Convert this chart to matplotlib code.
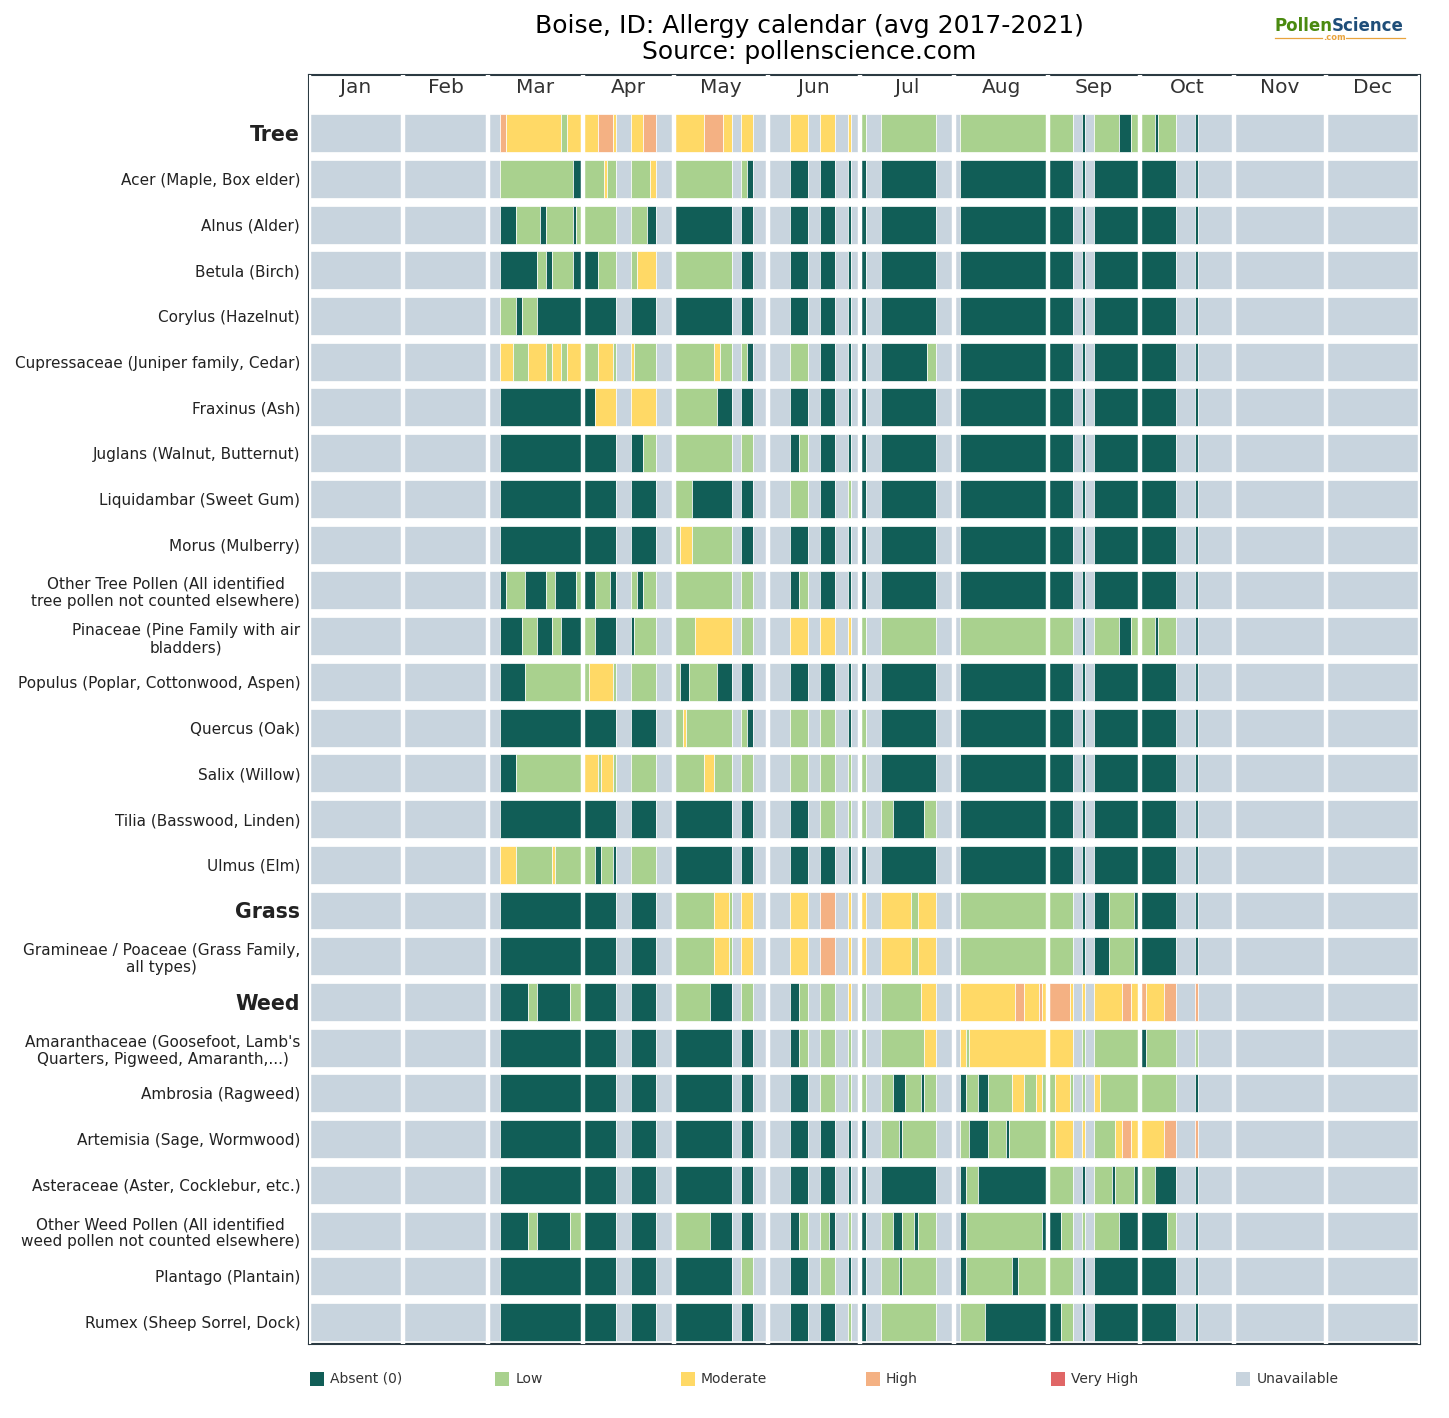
"""Allergy calendar for Boise, ID (avg 2017-2021), one bar row per pollen type, day resolution."""
import matplotlib
matplotlib.use("Agg")
import matplotlib.pyplot as plt
from matplotlib.lines import Line2D
from matplotlib.patches import Rectangle

W, H = 1449, 1418

MONTHS = ["Jan", "Feb", "Mar", "Apr", "May", "Jun", "Jul", "Aug", "Sep", "Oct", "Nov", "Dec"]
MONTH_DAYS = [31, 28, 31, 30, 31, 30, 31, 31, 30, 31, 30, 31]

LEVEL_NAMES = ["Absent (0)", "Low", "Moderate", "High", "Very High", "Unavailable"]
LEVEL_CODES = ["A", "L", "M", "H", "V", "U"]
LEVEL_COLORS = ["#115e57", "#a9d18e", "#ffd966", "#f4b183", "#e06666", "#c8d4de"]

ROW_LABELS = [
    "Tree", "Acer (Maple, Box elder)", "Alnus (Alder)", "Betula (Birch)",
    "Corylus (Hazelnut)", "Cupressaceae (Juniper family, Cedar)", "Fraxinus (Ash)",
    "Juglans (Walnut, Butternut)", "Liquidambar (Sweet Gum)", "Morus (Mulberry)",
    "Other Tree Pollen (All identified\ntree pollen not counted elsewhere)",
    "Pinaceae (Pine Family with air\nbladders)", "Populus (Poplar, Cottonwood, Aspen)",
    "Quercus (Oak)", "Salix (Willow)", "Tilia (Basswood, Linden)", "Ulmus (Elm)",
    "Grass", "Gramineae / Poaceae (Grass Family,\nall types)",
    "Weed", "Amaranthaceae (Goosefoot, Lamb's\nQuarters, Pigweed, Amaranth,...)",
    "Ambrosia (Ragweed)", "Artemisia (Sage, Wormwood)", "Asteraceae (Aster, Cocklebur, etc.)",
    "Other Weed Pollen (All identified\nweed pollen not counted elsewhere)",
    "Plantago (Plantain)", "Rumex (Sheep Sorrel, Dock)",
]
GROUP_ROWS = ["Tree", "Grass", "Weed"]

# daily level per row, run-length coded, one "|" group per month (Jan..Dec)
ROW_DAYS = [
    # Tree
    "U31|U28|U4 H2 M18 L2 M5|M5 H5 M1 U5 M4 H4 U6|M10 H6 M3 U3 M4 U5|U7 M6 U4 M5 U4 M1 U3|L2 U5 L18 U6|U2 L29|L8 U3 A1 U3 L8 A4 L3|L5 A1 L6 U6 A1 U12|U30|U31",
    # Acer
    "U31|U28|U4 L24 A3|L7 M1 L3 U5 L6 M2 U6|L19 U3 L2 A2 U5|U7 A6 U4 A5 U4 A1 U3|A2 U5 A18 U6|U2 A29|A8 U3 A1 U3 A15|A12 U6 A1 U12|U30|U31",
    # Alnus
    "U31|U28|U4 A5 L8 A2 L9 A1 L2|L11 U5 L5 A3 U6|A19 U3 A4 U5|U7 A6 U4 A5 U4 A1 U3|A2 U5 A18 U6|U2 A29|A8 U3 A1 U3 A15|A12 U6 A1 U12|U30|U31",
    # Betula
    "U31|U28|U4 A12 L3 A2 L7 A3|A5 L6 U5 L2 M6 U6|L19 U3 A4 U5|U7 A6 U4 A5 U4 A1 U3|A2 U5 A18 U6|U2 A29|A8 U3 A1 U3 A15|A12 U6 A1 U12|U30|U31",
    # Corylus
    "U31|U28|U4 L5 A2 L5 A15|A11 U5 A8 U6|A19 U3 A4 U5|U7 A6 U4 A5 U4 A1 U3|A2 U5 A18 U6|U2 A29|A8 U3 A1 U3 A15|A12 U6 A1 U12|U30|U31",
    # Cupressaceae
    "U31|U28|U4 M4 L5 M6 L2 M3 L2 M5|L5 M5 L1 U5 M1 L7 U6|L13 M2 L4 U3 L2 A2 U5|U7 L6 U4 A5 U4 A1 U3|A2 U5 A15 L3 U6|U2 A29|A8 U3 A1 U3 A15|A12 U6 A1 U12|U30|U31",
    # Fraxinus
    "U31|U28|U4 A27|A4 M7 U5 M8 U6|L14 A5 U3 A4 U5|U7 A6 U4 A5 U4 A1 U3|A2 U5 A18 U6|U2 A29|A8 U3 A1 U3 A15|A12 U6 A1 U12|U30|U31",
    # Juglans
    "U31|U28|U4 A27|A11 U5 A4 L4 U6|L19 U3 L4 U5|U7 A3 L3 U4 A5 U4 A1 U3|A2 U5 A18 U6|U2 A29|A8 U3 A1 U3 A15|A12 U6 A1 U12|U30|U31",
    # Liquidambar
    "U31|U28|U4 A27|A11 U5 A8 U6|L6 A13 U3 A4 U5|U7 L6 U4 A5 U4 L1 U3|A2 U5 A18 U6|U2 A29|A8 U3 A1 U3 A15|A12 U6 A1 U12|U30|U31",
    # Morus
    "U31|U28|U4 A27|A11 U5 A8 U6|L2 M4 L13 U3 A4 U5|U7 A6 U4 A5 U4 A1 U3|A2 U5 A18 U6|U2 A29|A8 U3 A1 U3 A15|A12 U6 A1 U12|U30|U31",
    # Other Tree Pollen
    "U31|U28|U4 A2 L6 A7 L3 A7 L2|A4 L5 A2 U5 L2 A2 L4 U6|L19 U3 L4 U5|U7 A3 L3 U4 A5 U4 A1 U3|A2 U5 A18 U6|U2 A29|A8 U3 A1 U3 A15|A12 U6 A1 U12|U30|U31",
    # Pinaceae
    "U31|U28|U4 A7 L5 A5 L3 A7|L4 A7 U5 A1 L7 U6|L7 M12 U3 L4 U5|U7 M6 U4 M5 U4 M1 U3|L2 U5 L18 U6|U2 L29|L8 U3 A1 U3 L8 A4 L3|L5 A1 L6 U6 A1 U12|U30|U31",
    # Populus
    "U31|U28|U4 A8 L19|L2 M8 L1 U5 L8 U6|L2 A3 L9 A5 U3 A4 U5|U7 A6 U4 A5 U4 A1 U3|A2 U5 A18 U6|U2 A29|A8 U3 A1 U3 A15|A12 U6 A1 U12|U30|U31",
    # Quercus
    "U31|U28|U4 A27|A11 U5 A8 U6|L3 M1 L15 U3 L2 A2 U5|U7 L6 U4 L5 U4 A1 U3|L2 U5 A18 U6|U2 A29|A8 U3 A1 U3 A15|A12 U6 A1 U12|U30|U31",
    # Salix
    "U31|U28|U4 A5 L22|M5 L1 M4 L1 U5 L8 U6|L10 M3 L6 U3 L4 U5|U7 L6 U4 L5 U4 L1 U3|L2 U5 A18 U6|U2 A29|A8 U3 A1 U3 A15|A12 U6 A1 U12|U30|U31",
    # Tilia
    "U31|U28|U4 A27|A11 U5 A8 U6|A19 U3 A4 U5|U7 A6 U4 L5 U4 L1 U3|L2 U5 L4 A10 L4 U6|U2 A29|A8 U3 A1 U3 A15|A12 U6 A1 U12|U30|U31",
    # Ulmus
    "U31|U28|U4 M5 L12 M1 L9|L4 A2 L4 A1 U5 L8 U6|A19 U3 A4 U5|U7 A6 U4 A5 U4 A1 U3|A2 U5 A18 U6|U2 A29|A8 U3 A1 U3 A15|A12 U6 A1 U12|U30|U31",
    # Grass
    "U31|U28|U4 A27|A11 U5 A8 U6|L13 M5 L1 U3 M4 U5|U7 M6 U4 H5 U4 M1 U3|M2 U5 M10 L2 M6 U6|U2 L29|L8 U3 A1 U3 A5 L8 A2|A12 U6 A1 U12|U30|U31",
    # Gramineae / Poaceae
    "U31|U28|U4 A27|A11 U5 A8 U6|L13 M5 L1 U3 M4 U5|U7 M6 U4 H5 U4 M1 U3|M2 U5 M10 L2 M6 U6|U2 L29|L8 U3 A1 U3 A5 L8 A2|A12 U6 A1 U12|U30|U31",
    # Weed
    "U31|U28|U4 A9 L3 A11 L4|A11 U5 A8 U6|L12 A7 U3 L4 U5|U7 A3 L3 U4 L5 U4 M1 U3|L2 U5 L13 M5 U6|U2 M18 H3 M5 H1 M2|H7 M1 U3 M1 U3 M9 H3 M3|H2 M6 H4 U6 H1 U12|U30|U31",
    # Amaranthaceae
    "U31|U28|U4 A27|A11 U5 A8 U6|A19 U3 A4 U5|U7 A3 L3 U4 L5 U4 L1 U3|L2 U5 L14 M4 U6|U2 M2 L1 M26|M8 U3 L1 U3 L15|A2 L10 U6 L1 U12|U30|U31",
    # Ambrosia
    "U31|U28|U4 A27|A11 U5 A8 U6|A19 U3 A4 U5|U7 A6 U4 L5 U4 L1 U3|L2 U5 L4 A4 L5 A1 L4 U6|U2 A2 L4 A3 L8 M4 L4 M2 L2|L2 M5 L1 U3 L1 U3 M2 L13|L12 U6 A1 U12|U30|U31",
    # Artemisia
    "U31|U28|U4 A27|A11 U5 A8 U6|A19 U3 A4 U5|U7 A6 U4 A5 U4 A1 U3|A2 U5 L6 A1 L11 U6|U2 L3 A6 L6 A1 L13|L2 M6 U3 M1 U3 L7 M2 H3 M3|M8 H4 U6 H1 U12|U30|U31",
    # Asteraceae
    "U31|U28|U4 A27|A11 U5 A8 U6|A19 U3 A4 U5|U7 A6 U4 A5 U4 A1 U3|A2 U5 A18 U6|U2 A2 L4 A23|L8 U3 A1 U3 L6 A1 L6 A2|L5 A7 U6 A1 U12|U30|U31",
    # Other Weed Pollen
    "U31|U28|U4 A9 L3 A11 L4|A11 U5 A8 U6|L12 A7 U3 A4 U5|U7 A3 L3 U4 L3 A2 U4 L1 U3|A2 U5 L4 A3 L4 A1 L6 U6|U2 A2 L25 A2|A4 L4 U3 L1 U3 L8 A7|A9 L3 U6 A1 U12|U30|U31",
    # Plantago
    "U31|U28|U4 A27|A11 U5 A8 U6|A19 U3 L4 U5|U7 A6 U4 L5 U4 A1 U3|A2 U5 L6 A1 L11 U6|U2 A2 L15 A2 L10|L8 U3 A1 U3 A15|A12 U6 A1 U12|U30|U31",
    # Rumex
    "U31|U28|U4 A27|A11 U5 A8 U6|A19 U3 A4 U5|U7 A6 U4 A5 U4 L1 U3|A2 U5 L18 U6|U2 L8 A21|A4 L4 U3 A1 U3 A15|A12 U6 A1 U12|U30|U31",
]


def parse_runs(code):
    """'U4 H2|...' -> list of (level_code, ndays); checks every month adds up."""
    runs = []
    for m, group in enumerate(code.split("|")):
        tot = 0
        for tok in group.split():
            n = int(tok[1:])
            runs.append((tok[0], n))
            tot += n
        assert tot == MONTH_DAYS[m], f"{MONTHS[m]}: {tot} days in '{group}'"
    return runs


def main():
    color_of = dict(zip(LEVEL_CODES, LEVEL_COLORS))
    month_start = [sum(MONTH_DAYS[:i]) for i in range(13)]

    fig = plt.figure(figsize=(W / 100, H / 100), dpi=100)
    fig.patch.set_facecolor("white")
    ax = fig.add_axes([308.5 / W, 1 - 1344 / H, (1420 - 308.5) / W, (1344 - 75) / H])

    for i, code in enumerate(ROW_DAYS):
        x = 0
        for lev, n in parse_runs(code):
            ax.barh(i, n, left=x, height=0.83, color=color_of[lev],
                    edgecolor="white", linewidth=0.5, zorder=2)
            x += n

    # white gutters between months
    for d in month_start:
        ax.axvline(d, color="white", lw=3.2, zorder=3)

    for m, name in enumerate(MONTHS):
        ax.text((month_start[m] + month_start[m + 1]) / 2, -1.0, name,
                ha="center", va="center", fontsize=14.5, color="#333333")

    ax.set_xlim(0, 365)
    ax.set_ylim(26.48, -1.27)
    ax.set_xticks([])
    ax.set_yticks(range(len(ROW_LABELS)))
    ax.set_yticklabels(ROW_LABELS)
    ax.tick_params(axis="y", length=0, pad=6)
    for lab in ax.get_yticklabels():
        lab.set_multialignment("center")
        lab.set_color("#222222")
        if lab.get_text() in GROUP_ROWS:
            lab.set_fontsize(14.8)
            lab.set_fontweight("bold")
        else:
            lab.set_fontsize(11)
    for sp in ax.spines.values():
        sp.set_color("#2b3a42")
        sp.set_linewidth(1.5)

    fig.text(809 / W, 1 - 39 / H,
             "Boise, ID: Allergy calendar (avg 2017-2021)\nSource: pollenscience.com",
             ha="center", va="center", fontsize=18, color="black", linespacing=1.1)

    # logo
    fig.text(1332 / W, 1 - 26 / H, "Pollen", ha="right", va="center",
             fontsize=12, fontweight="bold", color="#4a8a10")
    fig.text(1332 / W, 1 - 26 / H, "Science", ha="left", va="center",
             fontsize=12, fontweight="bold", color="#1f4e79")
    fig.text(1334 / W, 1 - 37 / H, ".com", ha="center", va="center",
             fontsize=6, fontweight="bold", color="#e8a33d")
    for x0, x1 in [(1275, 1322), (1346, 1405)]:
        fig.add_artist(Line2D([x0 / W, x1 / W], [1 - 37.5 / H] * 2, color="#e8a33d", lw=0.9))

    # legend: six equal slots across the axes width
    slot = 1.0 / len(LEVEL_NAMES)
    sq_w, sq_h = 14 / 1111.5, 14 / 1269
    ly = -35 / 1269
    for k, (name, col) in enumerate(zip(LEVEL_NAMES, LEVEL_COLORS)):
        x0 = k * slot + 1.5 / 1111.5
        ax.add_patch(Rectangle((x0, ly - sq_h / 2), sq_w, sq_h, transform=ax.transAxes,
                               facecolor=col, edgecolor="none", clip_on=False))
        ax.text(x0 + sq_w + 6 / 1111.5, ly, name, transform=ax.transAxes,
                ha="left", va="center", fontsize=10, color="#333333")

    fig.savefig("out.png", dpi=100, facecolor="white")
    plt.close(fig)


if __name__ == "__main__":
    main()
